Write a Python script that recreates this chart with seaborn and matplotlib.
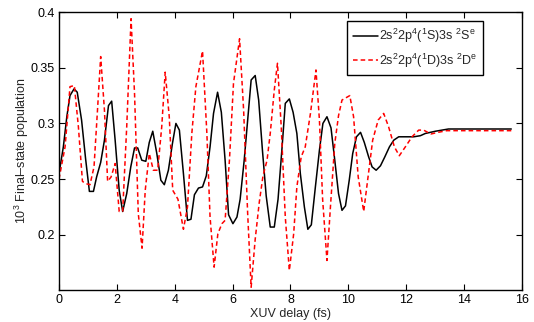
import pandas as pd
import matplotlib.pyplot as plt
import seaborn as sns
from matplotlib.ticker import FormatStrFormatter

# Values
delay_s = [0, 0.15, 0.27, 0.38, 0.52, 0.63, 0.78, 0.92, 1.05, 1.19, 1.30, 1.44, 1.57, 1.71, 1.82,
           1.94, 2.08, 2.20, 2.34, 2.48, 2.61, 2.72, 2.86, 3.00, 3.12, 3.24, 3.38, 3.52, 3.64, 3.78,
           3.92, 4.04, 4.16, 4.30, 4.44, 4.56, 4.68, 4.82, 4.96, 5.09, 5.22, 5.34, 5.48, 5.61, 5.74,
           5.86, 6.01, 6.15, 6.26, 6.40, 6.53, 6.64, 6.78, 6.90, 7.03, 7.16, 7.30, 7.44, 7.57, 7.71,
           7.82, 7.96, 8.09, 8.22, 8.34, 8.48, 8.60, 8.72, 8.86, 9.00, 9.12, 9.26, 9.40, 9.53, 9.66,
           9.78, 9.90, 10.03, 10.15, 10.28, 10.42, 10.55, 10.70, 10.82, 10.96, 11.11, 11.26, 11.42,
           11.57, 11.74, 11.97, 12.26, 12.49, 12.66, 13.01, 13.46, 15.63]
pop_s = [0.255, 0.279, 0.306, 0.325, 0.331, 0.328, 0.303, 0.268, 0.239, 0.239, 0.252, 0.265, 0.285,
         0.316, 0.320, 0.285, 0.240, 0.221, 0.237, 0.261, 0.278, 0.278, 0.267, 0.266, 0.283, 0.293,
         0.273, 0.249, 0.245, 0.258, 0.282, 0.300, 0.294, 0.255, 0.213, 0.214, 0.236, 0.242, 0.243,
         0.253, 0.279, 0.309, 0.328, 0.310, 0.267, 0.218, 0.210, 0.216, 0.232, 0.267, 0.306, 0.339,
         0.343, 0.321, 0.276, 0.235, 0.207, 0.207, 0.232, 0.279, 0.318, 0.322, 0.310, 0.291, 0.255,
         0.225, 0.205, 0.209, 0.243, 0.276, 0.300, 0.306, 0.296, 0.267, 0.237, 0.222, 0.226, 0.249,
         0.273, 0.288, 0.292, 0.283, 0.270, 0.261, 0.258, 0.262, 0.270, 0.279, 0.285, 0.288, 0.288,
         0.288, 0.289, 0.291, 0.293, 0.295, 0.295]

delay_d = [0, 0.21, 0.38, 0.53, 0.67, 0.81, 0.92, 1.07, 1.21, 1.33, 1.44, 1.57, 1.68, 1.80, 1.94,
           2.08, 2.20, 2.34, 2.49, 2.61, 2.74, 2.87, 2.98, 3.12, 3.26, 3.41, 3.55, 3.67, 3.81, 3.93,
           4.11, 4.30, 4.44, 4.59, 4.73, 4.96, 5.11, 5.22, 5.36, 5.49, 5.63, 5.74, 5.89, 6.03, 6.24,
           6.38, 6.52, 6.64, 6.78, 6.92, 7.05, 7.19, 7.30, 7.44, 7.55, 7.68, 7.82, 7.96, 8.11, 8.22,
           8.37, 8.51, 8.69, 8.88, 9.00, 9.11, 9.26, 9.38, 9.53, 9.66, 9.78, 10.05, 10.18, 10.34,
           10.53, 10.68, 10.84, 11.03, 11.22, 11.39, 11.59, 11.76, 11.97, 12.20, 12.43, 12.60, 12.85,
           13.10, 13.40, 15.63]
pop_d = [0.250, 0.279, 0.333, 0.334, 0.297, 0.248, 0.246, 0.245, 0.261, 0.312, 0.360, 0.312, 0.248,
         0.252, 0.264, 0.221, 0.221, 0.297, 0.394, 0.327, 0.219, 0.188, 0.240, 0.273, 0.258, 0.258,
         0.297, 0.346, 0.306, 0.240, 0.232, 0.205, 0.225, 0.291, 0.333, 0.365, 0.291, 0.216, 0.171,
         0.201, 0.210, 0.213, 0.267, 0.336, 0.376, 0.312, 0.219, 0.153, 0.196, 0.229, 0.253, 0.267,
         0.291, 0.330, 0.354, 0.297, 0.216, 0.168, 0.201, 0.243, 0.270, 0.279, 0.309, 0.348, 0.303,
         0.232, 0.177, 0.225, 0.282, 0.307, 0.321, 0.325, 0.306, 0.252, 0.221, 0.252, 0.285, 0.303,
         0.309, 0.297, 0.279, 0.271, 0.279, 0.288, 0.294, 0.294, 0.2905, 0.292, 0.2935, 0.2935]

label_s = r'2s$^2$2p$^4$($^1$S)3s $^2$S$^e$'
label_d = r'2s$^2$2p$^4$($^1$D)3s $^2$D$^e$'
x_ticks = [0, 2, 4, 6, 8, 10, 12, 14, 16]
y_ticks = [0.2, 0.25, 0.3, 0.35, 0.4]

sns.set_style("ticks")
plt.rcParams['font.family'] = ['Liberation Sans', 'DejaVu Sans']
plt.rcParams['mathtext.fontset'] = 'custom'
plt.rcParams['mathtext.rm'] = 'Liberation Sans'
plt.rcParams['mathtext.it'] = 'Liberation Sans'

fig, ax = plt.subplots(figsize=(5.34, 3.22), dpi=100)
fig.subplots_adjust(left=0.1105, right=0.9775, bottom=0.0994, top=0.9627)

df_s = pd.DataFrame({'delay': delay_s, 'pop': pop_s})
df_d = pd.DataFrame({'delay': delay_d, 'pop': pop_d})
sns.lineplot(data=df_s, x='delay', y='pop', ax=ax, color='black', linewidth=1.1, label=label_s)
sns.lineplot(data=df_d, x='delay', y='pop', ax=ax, color='red', linewidth=1.1,
             linestyle=(0, (3, 2)), label=label_d)

ax.set_xlim(0, 16)
ax.set_ylim(0.1505, 0.4)
ax.set_xticks(x_ticks)
ax.set_yticks(y_ticks)
ax.yaxis.set_major_formatter(FormatStrFormatter('%g'))
ax.tick_params(direction='in', top=True, right=True, length=4, width=0.8,
               labelsize=9, colors='black', pad=3)
for s in ax.spines.values():
    s.set_linewidth(1.0)
    s.set_color('black')

ax.set_xlabel('XUV delay (fs)', fontsize=9, labelpad=1)
ax.set_ylabel(r'10$^3$ Final–state population', fontsize=9, labelpad=0)

leg = ax.legend(loc='upper right', bbox_to_anchor=(0.915, 0.966), borderaxespad=0,
                fontsize=9, fancybox=False, framealpha=1, edgecolor='black',
                handlelength=2.0, handletextpad=0.1, borderpad=0.45, labelspacing=0.5)
leg.get_frame().set_linewidth(1.0)

fig.savefig('out.png', dpi=100)
